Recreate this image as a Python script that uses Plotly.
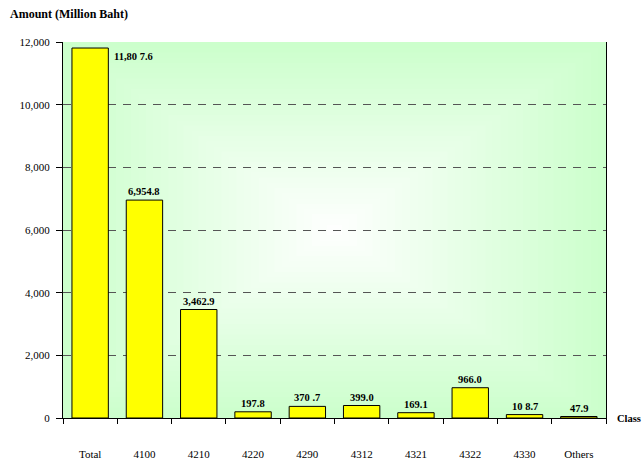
import plotly.graph_objects as go

categories = ["Total", "4100", "4210", "4220", "4290", "4312", "4321", "4322", "4330", "Others"]
values = [11807.6, 6954.8, 3462.9, 197.8, 370.7, 399.0, 169.1, 966.0, 108.7, 47.9]
value_labels = ["11,80 7.6", "6,954.8", "3,462.9", "197.8", "370 .7", "399.0", "169.1", "966.0", "10 8.7", "47.9"]
y_ticks = [0, 2000, 4000, 6000, 8000, 10000, 12000]
y_tick_labels = ["0", "2,000", "4,000", "6,000", "8,000", "10,000", "12,000"]

FONT = "Liberation Serif, Times New Roman, DejaVu Serif, serif"

fig = go.Figure()
fig.add_trace(go.Bar(
    x=categories, y=values, width=0.67,
    marker=dict(color="#FFFF00", line=dict(color="#000000", width=1)),
    hoverinfo="skip",
))

# rectangular "from centre" gradient background (white centre -> pale green edges)
N = 36
shapes = []
for i in range(N):
    f = 1 - i / N
    c = int(round(255 - f * (255 - 204)))
    col = f"rgb({c},255,{c})"
    shapes.append(dict(type="rect", xref="x domain", yref="y domain",
                       x0=0.5 - 0.5 * f, x1=0.5 + 0.5 * f,
                       y0=0.5 - 0.5 * f, y1=0.5 + 0.5 * f,
                       fillcolor=col, line=dict(width=0), layer="below"))

annotations = []
for i, (cat, v, lab) in enumerate(zip(categories, values, value_labels)):
    if i == 0:
        annotations.append(dict(x=i, y=v, xref="x", yref="y", text=f"<b>{lab}</b>",
                                showarrow=False, xanchor="left", yanchor="top",
                                xshift=22, yshift=-1,
                                font=dict(family=FONT, size=10.5, color="#000")))
    else:
        annotations.append(dict(x=i, y=v, xref="x", yref="y", text=f"<b>{lab}</b>",
                                showarrow=False, xanchor="center", yanchor="bottom",
                                yshift=1,
                                font=dict(family=FONT, size=10.5, color="#000")))

annotations.append(dict(x=1, y=0, xref="paper", yref="paper", text="<b>Class</b>",
                        showarrow=False, xanchor="left", yanchor="middle", xshift=9,
                        font=dict(family=FONT, size=10.5, color="#000")))
annotations.append(dict(x=0, y=1, xref="paper", yref="paper", text="<b>Amount (Million Baht)</b>",
                        showarrow=False, xanchor="left", yanchor="middle",
                        xshift=-55, yshift=28,
                        font=dict(family=FONT, size=12, color="#000")))

fig.update_layout(
    width=643, height=464,
    margin=dict(l=63, r=37, t=42, b=46, autoexpand=False),
    paper_bgcolor="white",
    plot_bgcolor="#CCFFCC",
    showlegend=False,
    shapes=shapes,
    annotations=annotations,
    font=dict(family=FONT, size=11, color="#000"),
)
fig.update_xaxes(
    type="category", automargin=False,
    categoryorder="array", categoryarray=categories,
    range=[-0.5, len(categories) - 0.5],
    tickangle=0,
    showline=True, linecolor="#000", linewidth=1,
    ticks="outside", ticklen=5, tickcolor="#000", tickson="boundaries",
    ticklabelstandoff=26,
    showgrid=False,
    tickfont=dict(family=FONT, size=11, color="#000"),
)
fig.update_yaxes(
    range=[0, 12000], automargin=False,
    tickvals=y_ticks, ticktext=y_tick_labels,
    showline=True, linecolor="#000", linewidth=1, mirror=True,
    ticks="outside", ticklen=6, tickcolor="#000",
    ticklabelstandoff=4,
    showgrid=True, gridcolor="#555555", griddash="8px,7px", gridwidth=1,
    zeroline=False,
    tickfont=dict(family=FONT, size=11, color="#000"),
)

fig.write_html("out.html",
               config={"displayModeBar": False},
               post_script="document.body.style.margin='0';document.body.style.overflow='hidden';")
